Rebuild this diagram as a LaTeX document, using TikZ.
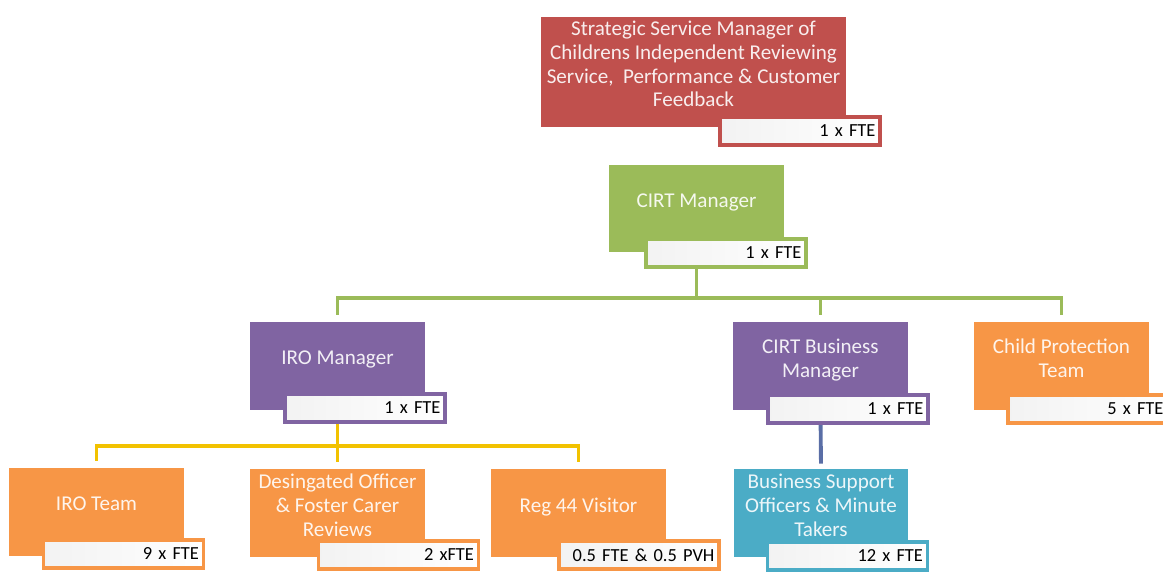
\documentclass[tikz,border=0pt]{standalone}
\usepackage{fontspec}
\setmainfont{Carlito}
\usepackage{tikz}
\usetikzlibrary{calc, positioning}
\usepackage{xcolor}
\definecolor{ssred}{HTML}{C0504D}
\definecolor{ssgreen}{HTML}{9BBB59}
\definecolor{sspurple}{HTML}{8064A2}
\definecolor{ssorange}{HTML}{F79646}
\definecolor{ssblue}{HTML}{4BACC6}
\definecolor{ssgold}{HTML}{F2C200}
\definecolor{ssnavy}{HTML}{5A6EA6}

\begin{document}
\begin{tikzpicture}[
            x=0.02cm, y=0.02cm,
            role/.style={fill=#1, text=white, text opacity=0.9, minimum width=3.5cm,
                minimum height=1.76cm, align=center, inner ysep=1pt, text depth=9pt,
                font=\fontsize{12}{13.5}\selectfont},
            fte/.style={draw=#1, line width=2pt, left color=black!5, right color=white,
                text width=3.02cm, align=right, minimum height=0.56cm, inner sep=0pt,
                inner xsep=2.5pt, font=\fontsize{10.5}{12}\selectfont},
            link/.style={draw=#1, line width=2.2pt}
        ]
            \useasboundingbox (0, 0) rectangle (1163, -572);
            \clip (0, 0) rectangle (1163, -572);
            \node[role=ssred, minimum width=6.06cm, minimum height=2.2cm] (ssm) at (693.5, -72)
                {Strategic Service Manager of\\Childrens Independent Reviewing\\Service,~ Performance \& Customer\\Feedback};
            \node[role=ssgreen] (cirt) at (696.5, -208.5) {CIRT Manager};
            \node[role=sspurple] (iro) at (337.5, -366) {IRO Manager};
            \node[role=sspurple] (cirtbiz) at (820.5, -366) {CIRT Business\\Manager};
            \node[role=ssorange] (cpteam) at (1061.5, -366) {Child Protection\\Team};
            \node[role=ssorange] (iroteam) at (96.5, -512) {IRO Team};
            \node[role=ssorange] (desig) at (337.5, -513) {Desingated Officer\\\& Foster Carer\\Reviews};
            \node[role=ssorange] (reg) at (578.5, -513) {Reg 44 Visitor};
            \node[role=ssblue] (bsupport) at (821, -513) {Business Support\\Officers \& Minute\\Takers};
            \coordinate (greenbus) at (696.5, -298);
            \coordinate (goldbus) at (337.5, -446);
            \draw[link=ssgreen] (cirt.south) -- (greenbus);
            \draw[link=ssgreen, shorten >=0.14cm] (greenbus) -| (iro.north);
            \draw[link=ssgreen, shorten >=0.14cm] (greenbus) -| (cirtbiz.north);
            \draw[link=ssgreen, shorten >=0.14cm] (greenbus) -| (cpteam.north);
            \draw[link=ssgold] (iro.south) -- (goldbus);
            \draw[link=ssgold, shorten >=0.14cm] (goldbus) -| (iroteam.north);
            \draw[link=ssgold, shorten >=0.14cm] (goldbus) -- (desig.north);
            \draw[link=ssgold, shorten >=0.14cm] (goldbus) -| (reg.north);
            \draw[link=ssnavy, shorten >=0.1cm] (cirtbiz.south) -- (bsupport.north);
            \node[fte=ssred] (ssm-fte) at (800, -131) {1 x FTE};
            \node[fte=ssgreen] (cirt-fte) at (726, -253) {1 x FTE};
            \node[fte=sspurple] (iro-fte) at (365, -408) {1 x FTE};
            \node[fte=sspurple] (cirtbiz-fte) at (848, -409) {1 x FTE};
            \node[fte=ssorange] (cpteam-fte) at (1088, -409) {5 x FTE};
            \node[fte=ssorange] (iroteam-fte) at (123.5, -554) {9 x FTE};
            \node[fte=ssorange] (desig-fte) at (398.5, -555) {2 xFTE};
            \node[fte=ssorange] (reg-fte) at (639, -555) {0.5 FTE \& 0.5 PVH};
            \node[fte=ssblue] (bsupport-fte) at (847.5, -556) {12 x FTE};
        \end{tikzpicture}
\end{document}
